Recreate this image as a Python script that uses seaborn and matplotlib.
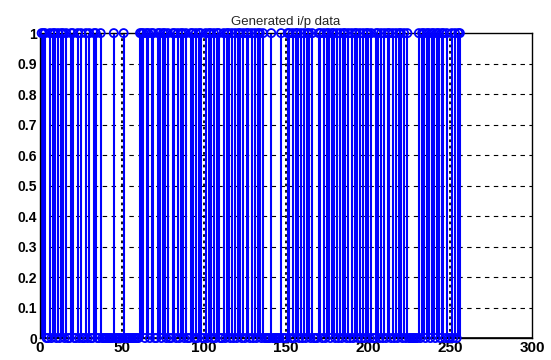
import matplotlib
matplotlib.use("Agg")
import matplotlib.pyplot as plt
import seaborn as sns
import numpy as np
import pandas as pd

# generated bit stream, 256 samples (indices that are 1)
n_bits = 256
ones_idx = [1, 2, 3, 6, 8, 9, 11, 13, 14, 16, 19, 20, 23, 25, 28, 30, 33, 34, 37,
            45, 51,
            61, 62, 63, 65, 66, 68, 69, 72, 73, 75, 76, 78, 81, 82, 84, 86, 87, 89,
            92, 93, 95, 97, 98, 101, 103, 104, 106, 108, 109, 112, 114, 115, 117,
            119, 121, 122, 124, 126, 127, 129, 131, 133, 134, 136, 141, 147,
            151, 152, 154, 156, 157, 159, 161, 163, 164, 166, 170, 171, 173, 175,
            176, 178, 179, 181, 183, 185, 186, 188, 190, 192, 193, 195, 197, 199,
            200, 202, 205, 206, 208, 210, 212, 213, 215, 217, 219, 220, 222, 224,
            231, 233, 234, 236, 237, 239, 240, 242, 243, 245, 246, 248, 251, 253,
            255, 256]
x_ticks = [0, 50, 100, 150, 200, 250, 300]
y_ticks = [0, 0.1, 0.2, 0.3, 0.4, 0.5, 0.6, 0.7, 0.8, 0.9, 1]
y_labels = ["0", "0.1", "0.2", "0.3", "0.4", "0.5", "0.6", "0.7", "0.8", "0.9", "1"]

idx = np.arange(1, n_bits + 1)
bits = np.isin(idx, ones_idx).astype(int)
df = pd.DataFrame({"n": idx, "bit": bits})

sns.set_style("white")
plt.rcParams['font.family'] = ['Liberation Sans', 'DejaVu Sans']

fig = plt.figure(figsize=(5.51, 3.6), dpi=100)
ax = fig.add_axes([0.0726, 0.061, 0.893, 0.847])

# grid first so stems cover it
for yv in y_ticks[1:-1]:
    ax.axhline(yv, color="black", ls=(0, (4, 4)), lw=0.8, zorder=0)
for xv in x_ticks[1:-1]:
    ax.axvline(xv, color="black", ls=(0, (1.5, 2)), lw=1.3, zorder=0)

stems = df[df.bit == 1]
ax.vlines(stems.n, 0, stems.bit, color="#0000ff", lw=1.5, zorder=2)
ax.axhline(0, color="black", lw=1.2, zorder=3)
sns.scatterplot(data=df, x="n", y="bit", marker="o", s=34, facecolor="none",
                edgecolor="#0000ff", linewidth=1.3, ax=ax, zorder=4, clip_on=False,
                legend=False)

ax.set_xlim(0, 300)
ax.set_ylim(0, 1)
ax.set_xticks(x_ticks)
ax.set_xticklabels([str(v) for v in x_ticks], fontsize=11, fontweight="bold")
ax.set_yticks(y_ticks)
ax.set_yticklabels(y_labels, fontsize=10, fontweight="bold")
ax.tick_params(direction="in", length=3, pad=2, colors="black")
ax.set_xlabel("")
ax.set_ylabel("")
for sp in ax.spines.values():
    sp.set_color("black")
    sp.set_linewidth(1.0)
ax.set_title("Generated i/p data", fontsize=9.5, pad=6)

fig.savefig("out.png", dpi=100)
